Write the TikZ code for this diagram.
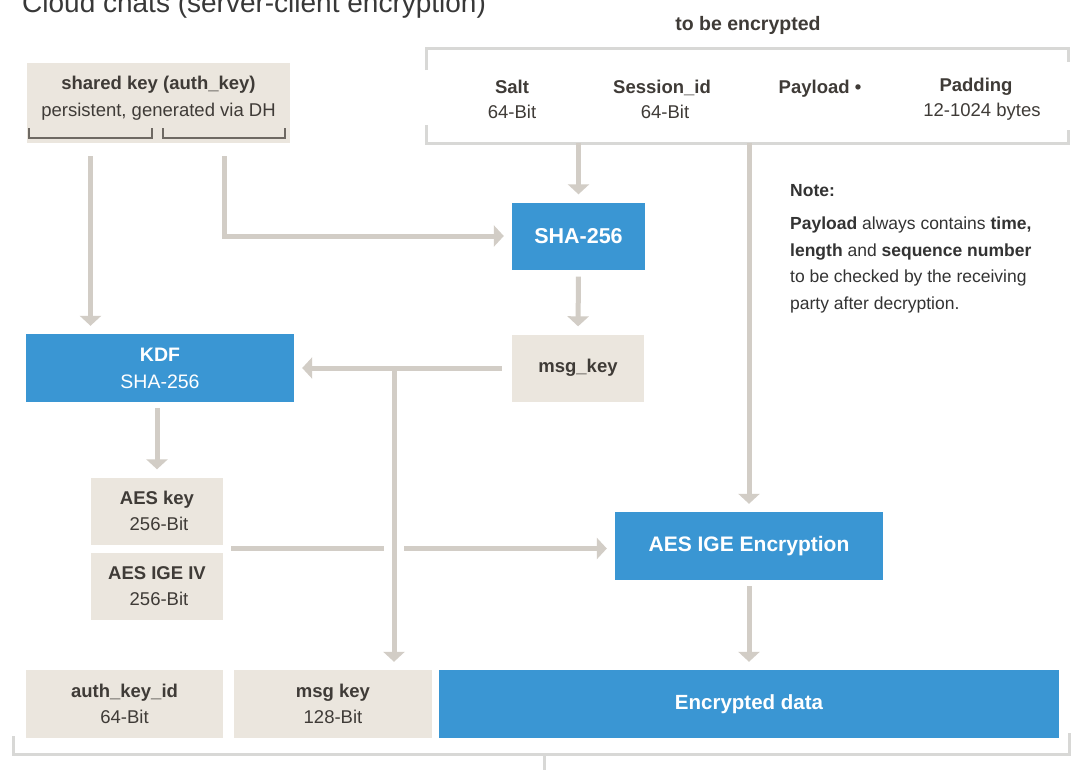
\documentclass[tikz,border=0pt]{standalone}
\usepackage{fontspec}
\setmainfont{Liberation Sans}
\usetikzlibrary{arrows.meta,calc}

\definecolor{tgblue}{HTML}{3A96D3}
\definecolor{tgbeige}{HTML}{EBE6DE}
\definecolor{tgline}{HTML}{D2CDC6}
\definecolor{tgframe}{HTML}{D8D8D6}
\definecolor{tgtext}{HTML}{3F3B37}
\definecolor{tgtick}{HTML}{6E6963}

\tikzset{
  box/.style={inner sep=0pt, align=center, text=tgtext,
              font=\fontsize{18.5}{26.5}\selectfont},
  beigebox/.style={box, fill=tgbeige},
  bluebox/.style={box, fill=tgblue, text=white},
  label/.style={inner sep=0pt, align=center, text=tgtext,
                font=\fontsize{18.5}{25}\selectfont},
  flow/.style={draw=tgline, line width=5pt},
  arr/.style={flow, -{Triangle[width=21pt,length=10pt]},
              shorten >=8pt},
  frame/.style={draw=tgframe, line width=3pt},
  keytick/.style={draw=tgtick, line width=2.5pt},
}

\begin{document}
\begin{tikzpicture}[x=1pt,y=-1pt]
\useasboundingbox (0,0) rectangle (1073,769);
\fill[white] (0,0) rectangle (1073,769);

% heading, partly above the page edge
\node[anchor=base west, inner sep=0pt, text=black!78,
      font=\fontsize{28}{30}\selectfont] (title) at (22,12)
  {Cloud chats (server-client encryption)};

% plaintext block
\node[anchor=base, inner sep=0pt, text=tgtext,
      font=\bfseries\fontsize{19.5}{22}\selectfont] (plainhead) at (748,30)
  {to be encrypted};
\draw[frame] (426,70) -- (426,48) -- (1068,48) -- (1068,62);
\draw[frame] (426,125) -- (426,143) -- (1068,143) -- (1068,130);
\node[label] (salt) at (512,99) {\textbf{Salt}\\64-Bit};
\node[label] (session) at (662,99) {\textbf{Session\_id}\\\hspace*{6pt}64-Bit};
\node[label, anchor=base] (payload) at (820,93) {\textbf{Payload •}};
\node[label] (padding) at (982,99) {\hspace*{-12pt}\textbf{Padding}\\12-1024 bytes};
\coordinate (plainsha) at (578.5,143);
\coordinate (plainaes) at (749,143);

% note
\node[anchor=north west, inner sep=0pt, align=left, text=black!80,
      font=\fontsize{17.5}{26.5}\selectfont] (note) at (790,184)
  {\textbf{Note:}\\[7pt]
   \textbf{Payload} always contains \textbf{time,}\\
   \textbf{length} and \textbf{sequence number}\\
   to be checked by the receiving\\
   party after decryption.};

% shared key
\node[beigebox, minimum width=263pt, minimum height=80pt] (shared) at (158.5,103) {};
\node[box] (sharedtxt) at (158.5,98)
  {\textbf{shared key (auth\_key)}\\persistent, generated via DH};
\draw[keytick] (29,128) -- (29,138) -- (152,138) -- (152,128);
\draw[keytick] (163,128) -- (163,138) -- (285,138) -- (285,128);
\coordinate (keyl) at (90.5,156);
\coordinate (keyr) at (224,156);

% processing boxes
\node[bluebox, minimum width=133pt, minimum height=67pt,
      font=\bfseries\fontsize{21.5}{24}\selectfont] (sha) at (578.5,236) {SHA-256};
\node[beigebox, minimum width=132pt, minimum height=67pt] (msgkey) at (578,368) {\textbf{msg\_key}};
\node[bluebox, minimum width=268pt, minimum height=68pt,
      font=\fontsize{19.5}{27}\selectfont] (kdf) at (160,368) {\textbf{KDF}\\SHA-256};
\node[beigebox, minimum width=132pt, minimum height=67pt] (aeskey) at (157,511) {\textbf{AES key}\\\hspace*{4pt}256-Bit};
\node[beigebox, minimum width=132pt, minimum height=67pt] (aesiv) at (157,586) {\textbf{AES IGE IV}\\\hspace*{4pt}256-Bit};
\node[bluebox, minimum width=268pt, minimum height=68pt,
      font=\bfseries\fontsize{21}{24}\selectfont] (aesige) at (749,546) {AES IGE Encryption};

% resulting message
\node[beigebox, minimum width=197pt, minimum height=68pt] (authid) at (124.5,704) {\textbf{auth\_key\_id}\\64-Bit};
\node[beigebox, minimum width=198pt, minimum height=68pt] (msgk2) at (333,704) {\textbf{msg key}\\128-Bit};
\node[bluebox, minimum width=620pt, minimum height=68pt,
      font=\bfseries\fontsize{20.5}{24}\selectfont] (enc) at (749,704) {Encrypted data};
\draw[frame] (13,736) -- (13,754) -- (1069,754) -- (1069,733);
\coordinate (msgend) at (544,754);
\draw[frame] (msgend) -- ++(0,18);

% connectors
\draw[arr] (keyl) -- (keyl |- kdf.north);
\draw[arr] (keyr) |- (sha.west);
\draw[arr] (plainsha) -- (sha.north);
\draw[arr, shorten <=7pt] (sha.south) -- (msgkey.north);
\draw[arr, shorten <=10pt] (msgkey.west) -- (kdf.east);
\coordinate (split) at (394,368);
\draw[arr] (split) -- (split |- msgk2.north);
\draw[arr, shorten <=6pt] (kdf.south -| aeskey.north) -- (aeskey.north);
\coordinate (aesout) at ($(aeskey.south east)!0.5!(aesiv.north east)$);
\draw[flow] ([xshift=8pt]aesout) -- ([xshift=-10pt]split |- aesout);
\draw[arr] ([xshift=10pt]split |- aesout) -- (aesige.west |- aesout);
\draw[arr] (plainaes) -- (aesige.north);
\draw[arr, shorten <=6pt] (aesige.south) -- (enc.north);
\end{tikzpicture}
\end{document}
